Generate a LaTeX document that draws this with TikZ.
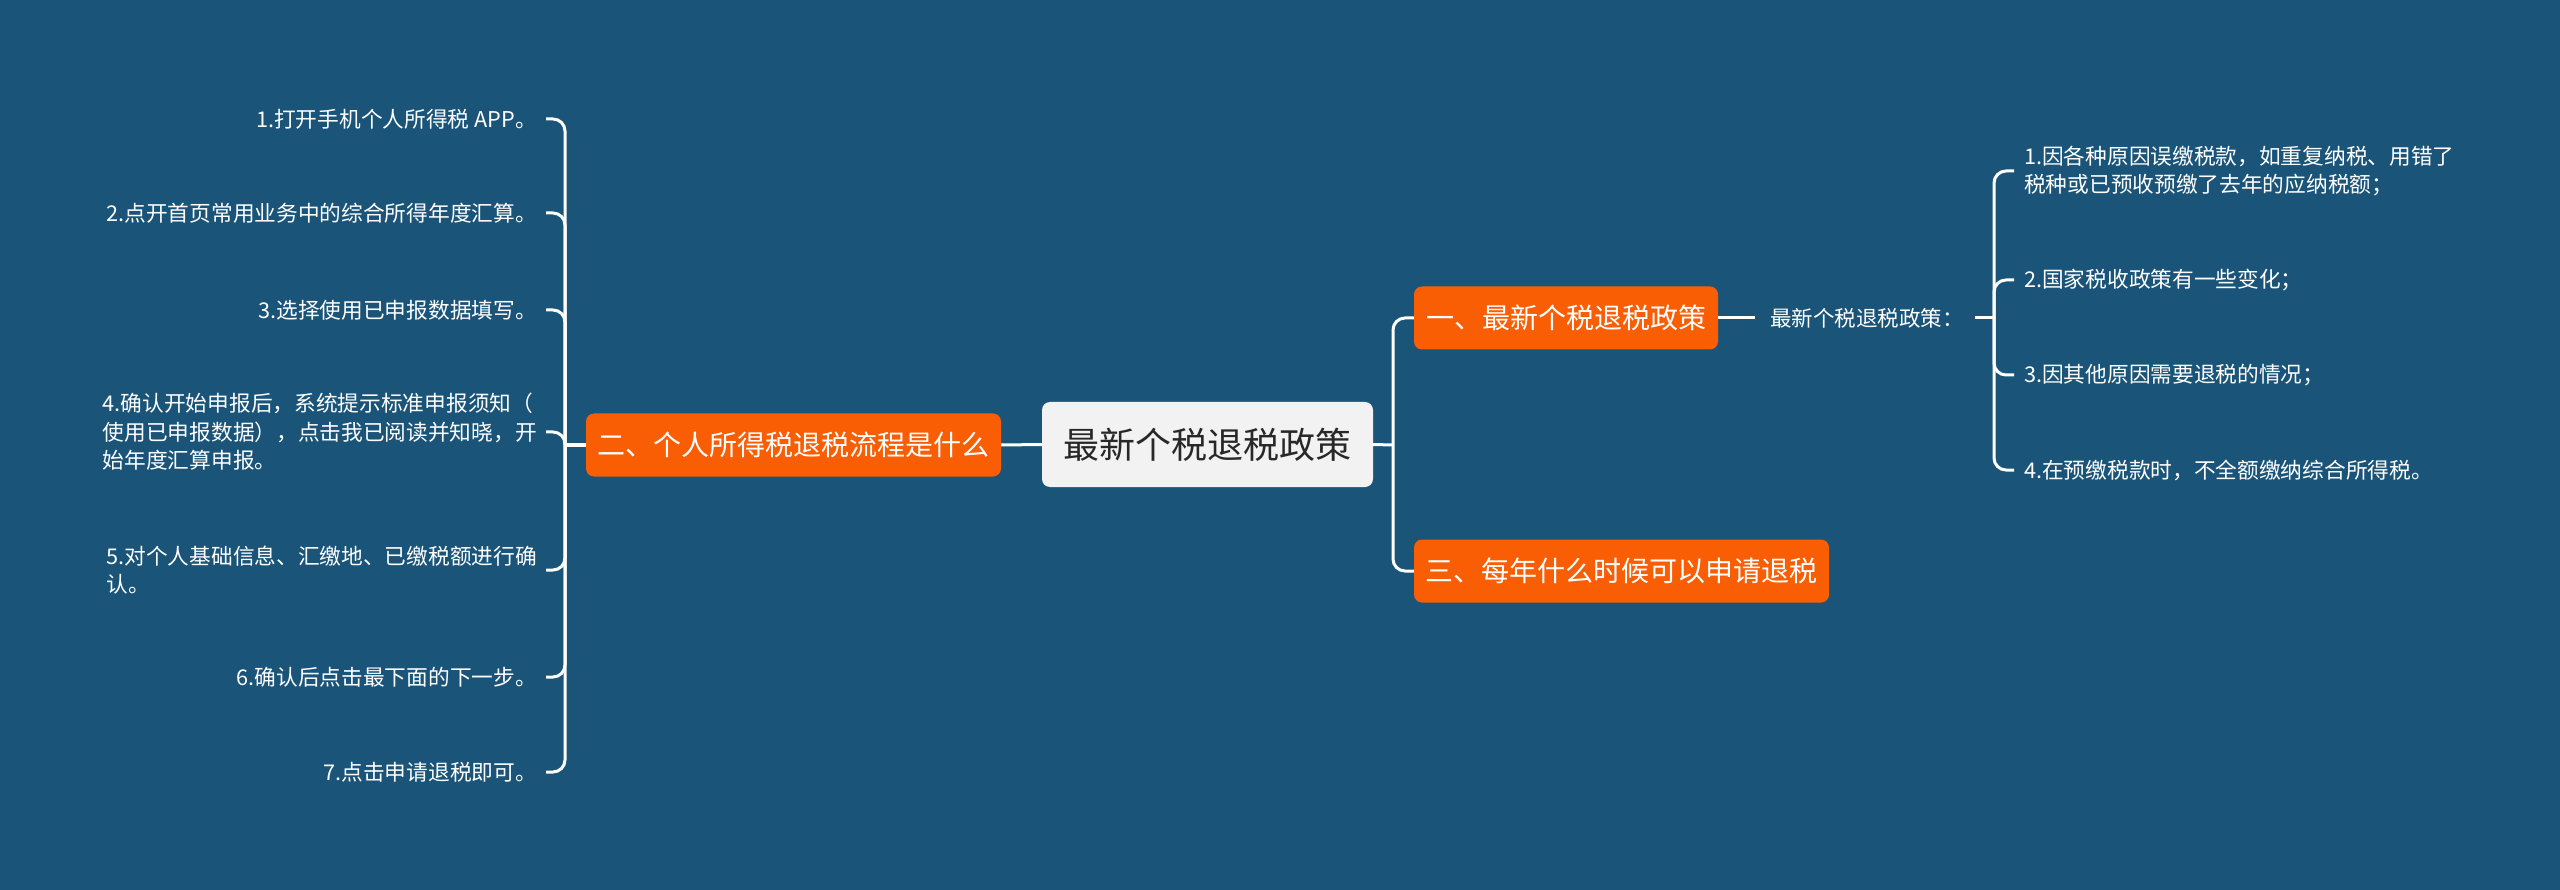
\documentclass[tikz,border=0pt]{standalone}
\usepackage{fontspec}
\setmainfont{Noto Sans CJK SC}
\usetikzlibrary{positioning}
\definecolor{mapbg}{RGB}{26,84,120}
\definecolor{topicbg}{RGB}{250,94,5}
\definecolor{rootbg}{RGB}{242,242,242}
\definecolor{roottext}{RGB}{40,40,40}

\begin{document}
\begin{tikzpicture}[x=1pt,y=-1pt,
  link/.style={draw=white,line width=3pt,rounded corners=12pt},
  rootbox/.style={fill=rootbg,text=roottext,rounded corners=8pt,minimum width=331pt,
    minimum height=85pt,inner sep=0pt,font=\fontsize{36}{40}\selectfont},
  topic/.style={fill=topicbg,text=white,rounded corners=8pt,minimum height=63pt,
    inner sep=0pt,font=\fontsize{28}{32}\selectfont},
  leaf/.style={text=white,inner sep=0pt,align=left,font=\fontsize{21.7}{28.5}\selectfont}]
  \fill[mapbg] (0,0) rectangle (2560,890);
  % centre and main topics
  \node[rootbox] (root) at (1207.5,444.5) {最新个税退税政策};
  \node[topic,minimum width=415pt] (flow) at (793.5,445) {二、个人所得税退税流程是什么};
  \node[topic,minimum width=304pt] (policy) at (1566,318) {一、最新个税退税政策};
  \node[topic,minimum width=415pt] (when) at (1621.5,571) {三、每年什么时候可以申请退税};
  \node[leaf,font=\fontsize{21.5}{26}\selectfont,anchor=west,right=52pt of policy] (policysub) {最新个税退税政策：};
  % left leaves
  \node[leaf,anchor=east] (ll1) at (537,119) {1.打开手机个人所得税 APP。};
  \node[leaf,anchor=east] (ll2) at (537,213) {2.点开首页常用业务中的综合所得年度汇算。};
  \node[leaf,anchor=east] (ll3) at (537,310) {3.选择使用已申报数据填写。};
  \node[leaf,anchor=east] (ll4) at (537,432) {4.确认开始申报后，系统提示标准申报须知（\\使用已申报数据），点击我已阅读并知晓，开\\始年度汇算申报。};
  \node[leaf,anchor=east] (ll5) at (537,570) {5.对个人基础信息、汇缴地、已缴税额进行确\\认。};
  \node[leaf,anchor=east] (ll6) at (537,677) {6.确认后点击最下面的下一步。};
  \node[leaf,anchor=east] (ll7) at (537,772) {7.点击申请退税即可。};
  % right leaves
  \node[leaf,anchor=west] (rl1) at (2024,171) {1.因各种原因误缴税款，如重复纳税、用错了\\税种或已预收预缴了去年的应纳税额；};
  \node[leaf,anchor=west] (rl2) at (2024,280) {2.国家税收政策有一些变化；};
  \node[leaf,anchor=west] (rl3) at (2024,375) {3.因其他原因需要退税的情况；};
  \node[leaf,anchor=west] (rl4) at (2024,470) {4.在预缴税款时，不全额缴纳综合所得税。};
  % forks
  \coordinate (lfork) at (565,445);
  \coordinate (rfork) at (1393,445);
  \coordinate (sfork) at (1994,318);
  \draw[link] (root.west) -- (flow.east);
  \draw[link] (flow.west) -- (lfork);
  \foreach \i in {1,...,7}
    \draw[link] (lfork) |- ([xshift=9pt]ll\i.east);
  \draw[link] (root.east) -- (rfork);
  \draw[link] (rfork) |- (policy.west);
  \draw[link] (rfork) |- (when.west);
  \draw[link] (policy.east) -- ([xshift=-15pt]policysub.west);
  \draw[link] ([xshift=11pt]policysub.east) -- (sfork);
  \foreach \i in {1,...,4}
    \draw[link] (sfork) |- ([xshift=-10pt]rl\i.west);
\end{tikzpicture}
\end{document}
